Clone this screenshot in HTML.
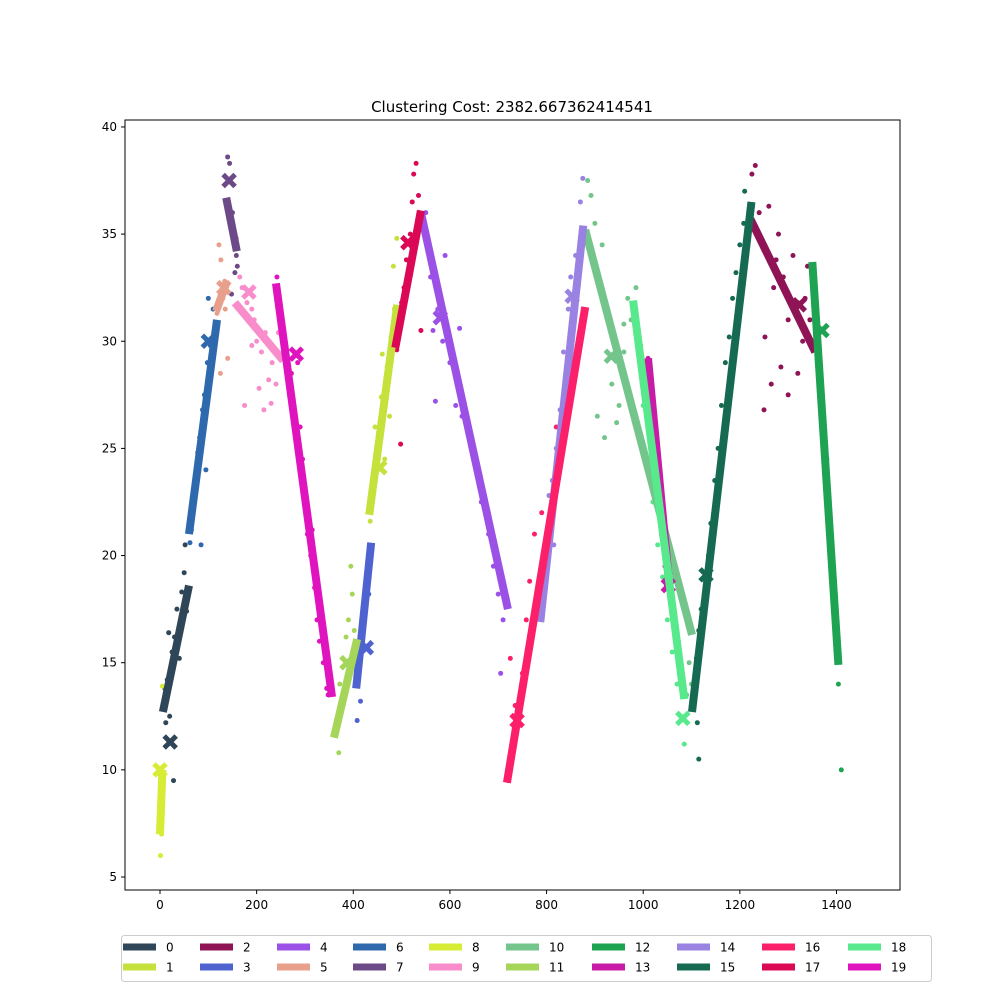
<!DOCTYPE html>
<html><head><meta charset="utf-8">
<style>
body{margin:0;background:#fff;font-family:"Liberation Sans","DejaVu Sans",sans-serif;}
svg text{font-family:"DejaVu Sans","Liberation Sans",sans-serif;}
</style></head>
<body>
<svg id="chart" width="1000" height="1000" xmlns="http://www.w3.org/2000/svg">
<rect width="1000" height="1000" fill="#fff"/>
<text x="512" y="112" font-size="15" text-anchor="middle">Clustering Cost: 2382.667362414541</text>
<g id="plot"></g>
<rect x="125" y="120" width="775" height="770" fill="none" stroke="#000" stroke-width="1"/>
<g id="axes"></g>
<g id="legend"></g>
</svg>
<script>
const clusterIds=[0,1,2,3,4,5,6,7,8,9,10,11,12,13,14,15,16,17,18,19];
const colors=["#2e4657","#c5e23c","#8e1456","#4e63d0","#9b51e5","#e8a08c","#2f69ad","#6c4a88","#d6ec35","#f98ccb","#74c58c","#a5d65a","#1ea352","#c81ca8","#9a82e2","#176a52","#fb2069","#da0855","#57e98c","#df14be"];
// regression segments [x1,y1,x2,y2]
const segments=[
[6,12.7,60,18.6],[433,21.9,491,31.7],[1222,35.7,1356,29.5],[406,13.8,437,20.6],[540,36,720,17.5],
[116,31.4,137,32.7],[60,21,118,31],[137,36.7,159,34.2],[0,7,5,10],[155,31.8,255,29.1],
[880,35.2,1101,16.3],[360,11.5,408,16.1],[1350,33.7,1404,14.9],[1010,29.2,1052,19.1],[787,16.9,876,35.4],
[1101,12.7,1224,36.5],[718,9.4,880,31.6],[487,29.7,540,36.1],[979,31.9,1085,13.3],[240,32.7,356,13.4]];
const centroids=[[21,11.3],[455,24.1],[1323,31.7],[427,15.7],[580,31.1],[132,32.5],[100,30],[143,37.5],[0,10],[184,32.3],[934,29.3],[387,15],[1370,30.5],[1052,18.6],[853,32.1],[1130,19.1],[739,12.3],[513,34.6],[1082,12.4],[282,29.4]];
const points=[
[[10,13.8],[15,14.2],[20,12.5],[25,15.5],[30,16.2],[35,17.5],[40,15.2],[45,18.3],[50,19.2],[55,17.4],[18,16.4],[28,9.5],[12,12.2],[42,16.8],[52,20.5]],
[[435,21.6],[440,23],[445,26],[450,25],[458,27.4],[465,24.5],[470,28.8],[478,30.2],[485,31.5],[490,34.8],[460,29.4],[475,26.5],[483,33.5]],
[[1225,37.8],[1232,38.2],[1240,36],[1250,34.5],[1260,36.3],[1270,32.5],[1280,35],[1290,33],[1300,31],[1310,34],[1320,28.5],[1330,30],[1340,33.5],[1345,31],[1252,30.2],[1265,28],[1285,28.8],[1300,27.5],[1250,26.8],[1320,31.8],[1335,32],[1275,33.8]],
[[408,12.3],[412,14.5],[418,16],[422,17.5],[428,19],[432,18.2],[436,20],[415,13.2]],
[[545,35.5],[550,36],[560,33],[565,30.5],[575,31.5],[585,30],[590,34],[600,29],[612,27],[620,30.6],[630,26.8],[640,25.5],[655,24],[665,22.5],[680,21],[690,19.5],[700,18.2],[710,17],[715,18],[705,14.5],[570,27.2],[625,26.5]],
[[118,31.3],[122,34.5],[126,33.8],[130,32],[134,32.8],[125,28.5],[140,29.2],[135,31.5]],
[[62,20.6],[68,22.5],[72,23.5],[78,24.8],[82,25.5],[88,26.8],[92,27.5],[98,29],[104,29.8],[110,31.5],[100,32],[65,21.2],[85,20.5],[95,24]],
[[140,38.6],[144,38.3],[150,36],[152,35],[158,34],[155,33.2],[148,32.2],[160,33.5]],
[[0,9.8],[2,10],[4,8.5],[3,7],[1,6],[5,13.9],[6,9.5]],
[[158,34.8],[165,33],[170,32.5],[180,31.8],[190,31.5],[195,31],[200,30],[210,29.5],[218,30.4],[225,28.2],[232,29],[240,28],[175,27],[190,29.8],[205,27.8],[215,26.8],[230,27.1],[245,30.4]],
[[885,37.5],[892,36.8],[900,35.5],[905,33],[915,34.5],[920,31.5],[930,31],[935,28],[940,30],[950,27],[960,30.8],[968,32],[975,31],[985,32.5],[905,26.5],[920,25.5],[945,26.2],[960,29.5],[1095,15],[1100,14],[1090,13.5]],
[[362,11.6],[368,12.5],[372,14],[378,13.2],[385,16.2],[390,17],[395,19.5],[398,18.2],[370,10.8],[402,16.5]],
[[1352,32.2],[1358,31],[1362,30.5],[1368,28],[1374,26],[1380,24.5],[1385,22],[1390,20],[1394,18.5],[1398,17],[1402,15.8],[1404,14],[1410,10]],
[[1010,29.2],[1015,27.5],[1020,26.5],[1025,24],[1030,22.5],[1038,21],[1045,19.5],[1048,18.6],[1055,18.5]],
[[790,17],[795,19],[800,20.5],[805,22.8],[812,23.5],[820,25],[828,26.8],[835,29.5],[845,31.5],[850,33],[860,34],[870,36.5],[875,37.6],[815,20.5],[840,28]],
[[1105,14],[1110,15.2],[1115,16.5],[1120,17.5],[1128,19],[1135,20],[1140,21.5],[1148,23.5],[1155,25],[1162,27],[1170,29],[1178,30.2],[1185,32],[1192,33.2],[1200,34.5],[1208,35.5],[1210,37],[1115,10.5],[1112,12.2],[1150,22],[1170,26.5]],
[[720,9.5],[728,11],[735,13],[742,12.4],[750,14.5],[758,17],[765,18.8],[775,21],[790,22],[820,26],[850,29.5],[870,34.5],[873,30.5],[725,15.2]],
[[490,29.6],[495,30.5],[500,31.8],[505,32.5],[510,33.8],[518,35],[522,36.5],[525,37.8],[530,38.3],[535,36.8],[498,25.2],[540,30.5]],
[[985,31],[990,29.5],[995,29.8],[1000,27],[1010,24.5],[1020,22.5],[1030,20.5],[1040,19],[1050,17],[1060,15.5],[1070,14],[1078,12.5],[1085,11.2],[1082,13.8]],
[[242,33],[248,31],[255,30.5],[260,29.8],[268,27.5],[272,28.5],[285,29],[290,26],[295,24.5],[300,22.5],[305,21],[312,20],[320,18.5],[325,17],[330,16],[338,15],[345,13.8],[348,13.5],[315,21.2]]
];
const xTicks=[0,200,400,600,800,1000,1200,1400];
const yTicks=[5,10,15,20,25,30,35,40];

const X=v=>160+v*0.4832;
const Y=v=>877-(v-5)*21.43;
const NS="http://www.w3.org/2000/svg";
function mk(tag,attrs,parent){const e=document.createElementNS(NS,tag);for(const k in attrs)e.setAttribute(k,attrs[k]);parent.appendChild(e);return e;}
const plot=document.getElementById('plot');
clusterIds.forEach(i=>{
  const g=mk('g',{},plot);
  
  
  points[i].forEach(p=>{
    const c=mk('circle',{cx:X(p[0]),cy:Y(p[1]),r:2.5,fill:colors[i]},g);
    
    
  });
});
clusterIds.forEach(i=>{
  const s=segments[i];
  const l=mk('line',{x1:X(s[0]),y1:Y(s[1]),x2:X(s[2]),y2:Y(s[3]),stroke:colors[i],'stroke-width':8},plot);
  
  
  const c=centroids[i];const cx=X(c[0]),cy=Y(c[1]);
  const m=mk('path',{d:`M${cx-6},${cy-6}L${cx+6},${cy+6}M${cx+6},${cy-6}L${cx-6},${cy+6}`,stroke:colors[i],'stroke-width':5},plot);
  
  
});
const axes=document.getElementById('axes');
xTicks.forEach(t=>{
  const x=X(t);
  const tk=mk('line',{x1:x,y1:890,x2:x,y2:894,stroke:'#000'},axes);
  
  
  const tx=mk('text',{x:x,y:909,'font-size':12,'text-anchor':'middle'},axes);
  tx.textContent=t;
  
  
});
yTicks.forEach(t=>{
  const y=Y(t);
  const tk=mk('line',{x1:121,y1:y,x2:125,y2:y,stroke:'#000'},axes);
  
  
  const tx=mk('text',{x:117,y:y+4,'font-size':12,'text-anchor':'end'},axes);
  tx.textContent=t;
  
  
});
const lg=document.getElementById('legend');
const box=mk('rect',{x:121.5,y:935.5,width:810,height:46,rx:3,fill:'#fff',stroke:'#ccc'},lg);


const colX=[123,200,277,353,429,506,592,677,762,848];
clusterIds.forEach(i=>{
  const col=Math.floor(i/2),row=i%2;
  const x=colX[col],y=947+row*20;
  const g=mk('g',{},lg);
  
  
  mk('rect',{x:x,y:y-3.5,width:33,height:7,fill:colors[i]},g);
  const t=mk('text',{x:x+43,y:y+4.5,'font-size':12},g);
  t.textContent=i;
});
</script>
</body></html>
